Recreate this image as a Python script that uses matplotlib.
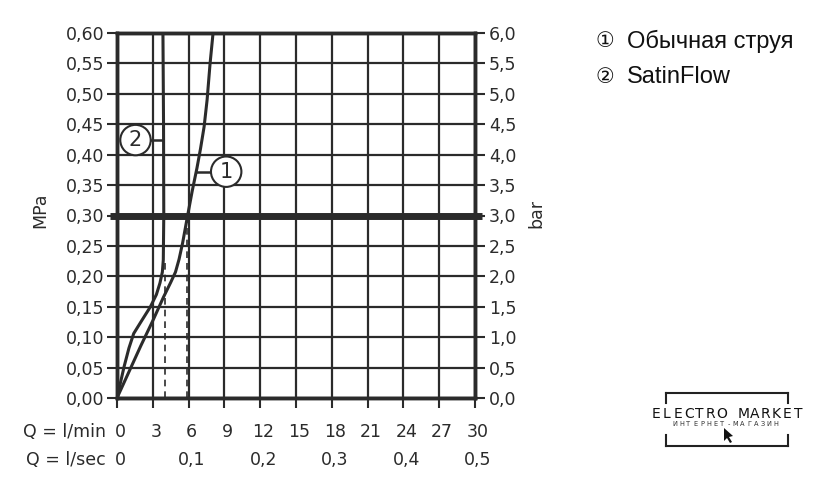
import matplotlib
matplotlib.use("Agg")
import matplotlib.pyplot as plt
import matplotlib.transforms as mtransforms
from matplotlib.patches import Polygon
import numpy as np

# ---- data ----
flow_ticks = [0, 3, 6, 9, 12, 15, 18, 21, 24, 27, 30]
flow_sec_pos = [0, 6, 12, 18, 24, 30]
flow_sec_labels = ["0", "0,1", "0,2", "0,3", "0,4", "0,5"]
mpa_ticks = [0.00, 0.05, 0.10, 0.15, 0.20, 0.25, 0.30, 0.35, 0.40, 0.45, 0.50, 0.55, 0.60]
mpa_labels = ["0,00", "0,05", "0,10", "0,15", "0,20", "0,25", "0,30", "0,35", "0,40", "0,45", "0,50", "0,55", "0,60"]
bar_labels = ["0,0", "0,5", "1,0", "1,5", "2,0", "2,5", "3,0", "3,5", "4,0", "4,5", "5,0", "5,5", "6,0"]

# curve 1: Обычная струя
c1_flow = [0, 1.0, 2.0, 3.0, 3.9, 4.5, 4.9, 5.2, 5.5, 5.9, 6.3, 6.7, 7.0, 7.3, 7.55, 7.8, 8.05]
c1_pres = [0, 0.043, 0.086, 0.127, 0.166, 0.190, 0.207, 0.228, 0.255, 0.298, 0.340, 0.378, 0.410, 0.446, 0.490, 0.550, 0.600]
# curve 2: SatinFlow
c2_flow = [0, 0.6, 1.0, 1.4, 2.0, 2.8, 3.3, 3.6, 3.8, 3.88, 3.92, 3.9, 3.85]
c2_pres = [0, 0.052, 0.082, 0.106, 0.125, 0.150, 0.170, 0.189, 0.207, 0.227, 0.30, 0.45, 0.60]

ref_pressure = 0.30
c1_at_ref = 5.9
c2_dash_x, c2_dash_top = 4.0, 0.23

legend_items = ["Обычная струя", "SatinFlow"]
legend_marks = ["\u2460", "\u2461"]

dark = "#2b2b2b"
W, H = 819, 496
fig = plt.figure(figsize=(W / 100, H / 100), dpi=100)
plt.rcParams['font.family'] = ['DejaVu Sans']

L, R, B, T = 117, 475, 398, 33
ax = fig.add_axes([L / W, 1 - B / H, (R - L) / W, (B - T) / H])
ax.set_xlim(0, 30)
ax.set_ylim(0, 0.6)
ax.set_xticks(flow_ticks)
ax.set_yticks(mpa_ticks)
ax.set_yticklabels(mpa_labels, fontsize=12.5, color=dark)
ax.set_xticklabels([])
ax.grid(True, color=dark, lw=1.6)
ax.set_axisbelow(True)
for s in ax.spines.values():
    s.set_linewidth(2.5)
    s.set_color(dark)
ax.tick_params(axis='both', direction='out', length=7, width=1.5, color=dark, pad=2)

ax2 = ax.twinx()
ax2.set_ylim(0, 0.6)
ax2.set_yticks(mpa_ticks)
ax2.set_yticklabels(bar_labels, fontsize=12.5, color=dark)
ax2.tick_params(axis='y', direction='out', length=7, width=1.5, color=dark, pad=3)
for s in ax2.spines.values():
    s.set_linewidth(2.5)
    s.set_color(dark)

# reference line 0.30 MPa
ax.plot([-0.6, 30.6], [ref_pressure, ref_pressure], color=dark, lw=5, clip_on=False, zorder=3, solid_capstyle='butt')

# curves
ax.plot(c1_flow, c1_pres, color=dark, lw=2.2, zorder=4)
ax.plot(c2_flow, c2_pres, color=dark, lw=2.2, zorder=4)

# dashed drop lines
ax.plot([c1_at_ref, c1_at_ref], [0, ref_pressure], color=dark, lw=1.2, ls=(0, (4, 3)), zorder=4)
ax.plot([c2_dash_x, c2_dash_x], [0, c2_dash_top], color=dark, lw=1.2, ls=(0, (4, 3)), zorder=4)

# circled callouts
ax.plot([2.85, 3.88], [0.424, 0.424], color=dark, lw=1.8, zorder=4)
ax.text(1.55, 0.424, "2", fontsize=15, ha='center', va='center', color=dark, zorder=6,
        bbox=dict(boxstyle='circle,pad=0.25', fc='white', ec=dark, lw=1.5))
ax.plot([6.6, 7.8], [0.372, 0.372], color=dark, lw=1.8, zorder=4)
ax.text(9.15, 0.372, "1", fontsize=15, ha='center', va='center', color=dark, zorder=6,
        bbox=dict(boxstyle='circle,pad=0.25', fc='white', ec=dark, lw=1.5))

# bottom labels
off = mtransforms.offset_copy(ax.get_xaxis_transform(), fig=fig, x=3, y=0, units='dots')
for x in flow_ticks:
    ax.text(x, (B - 432) / (B - T), str(x), transform=off, ha='center', va='center', fontsize=12.5, color=dark)
for x, lab in zip(flow_sec_pos, flow_sec_labels):
    ax.text(x, (B - 460) / (B - T), lab, transform=off, ha='center', va='center', fontsize=12.5, color=dark)
fig.text(106 / W, 1 - 432 / H, "Q = l/min", ha='right', va='center', fontsize=12.5, color=dark)
fig.text(106 / W, 1 - 460 / H, "Q = l/sec", ha='right', va='center', fontsize=12.5, color=dark)

fig.text(40 / W, 1 - 210 / H, "MPa", rotation=90, ha='center', va='center', fontsize=12.5, color=dark)
fig.text(536 / W, 1 - 213 / H, "bar", rotation=90, ha='center', va='center', fontsize=12.5, color=dark)

# legend text
leg_fam = ['Liberation Sans', 'DejaVu Sans']
for i, (mk, lab) in enumerate(zip(legend_marks, legend_items)):
    yy = 1 - (41 + 36 * i) / H
    fig.text(604.5 / W, yy, mk, ha='center', va='center', fontsize=15, color='#111111', family=['DejaVu Sans'])
    fig.text(627 / W, yy, lab, ha='left', va='center', fontsize=17, color='#111111', family=leg_fam)

# logo
def fl(x, y):
    return x / W, 1 - y / H
lc = '#222222'
for (x0, y0, x1, y1) in [(666, 393, 788, 393), (666, 393, 666, 403), (788, 393, 788, 403),
                         (666, 446, 788, 446), (666, 435, 666, 446), (788, 435, 788, 446)]:
    a, b = fl(x0, y0)
    c, d = fl(x1, y1)
    fig.add_artist(plt.Line2D([a, c], [b, d], color=lc, lw=1.5))
logo = "ELECTRO MARKET"
xs = np.linspace(656, 798, len(logo))
for ch, xc in zip(logo, xs):
    fig.text(xc / W, 1 - 414 / H, ch, ha='center', va='center', fontsize=10, color='#111111')
sub = "ИНТЕРНЕТ-МАГАЗИН"
xs2 = np.linspace(675, 776, len(sub))
for ch, xc in zip(sub, xs2):
    fig.text(xc / W, 1 - 424.5 / H, ch, ha='center', va='center', fontsize=4.8, color='#333333')
cur = np.array([[724, 428], [724, 441], [727, 438], [730, 443], [732, 442], [729, 437], [733, 436]])
fig.add_artist(Polygon([fl(x, y) for x, y in cur], closed=True, fc='#111111', ec='none'))

fig.savefig("out.png", dpi=100)
